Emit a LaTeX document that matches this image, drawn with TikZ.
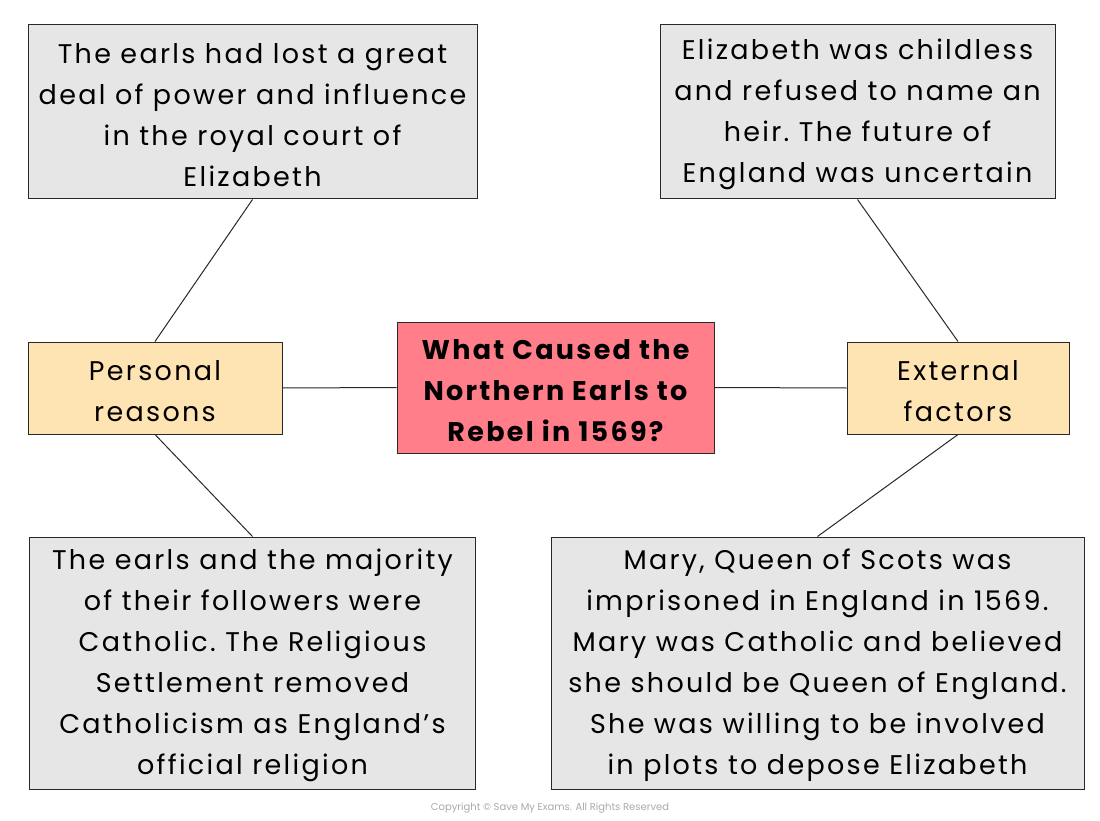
\documentclass[tikz,border=0pt]{standalone}
\usepackage{fontspec}
\setmainfont{Poppins}[LetterSpace=8.5]
\newfontfamily\copyfont{Poppins}
\newcommand\topstrut{\rule{0pt}{26pt}}
\definecolor{boxgray}{RGB}{230,230,230}
\definecolor{boxorange}{RGB}{255,228,179}
\definecolor{boxred}{RGB}{255,126,138}
\definecolor{edge}{RGB}{40,40,40}
\definecolor{copygray}{RGB}{170,170,170}
\begin{document}
\begin{tikzpicture}[x=1pt,y=-1pt,
  base/.style={draw=edge,line width=1pt,align=center,inner sep=0pt,
    font=\frenchspacing\fontsize{27}{41}\selectfont},
  infobox/.style={base,fill=boxgray},
  catbox/.style={base,fill=boxorange},
  mainbox/.style={base,fill=boxred,font=\frenchspacing\fontsize{27}{41}\bfseries\selectfont},
  link/.style={draw=edge,line width=1pt}]
\useasboundingbox (0,0) rectangle (1100,821);
\fill[white] (0,0) rectangle (1100,821);
\node[infobox,minimum width=449pt,minimum height=174pt] (tl) at (252.5,112)
  {\topstrut The earls had lost a great\\deal of power and influence\\in the royal court of\\Elizabeth};
\node[infobox,minimum width=395pt,minimum height=174pt] (tr) at (857.5,112)
  {\topstrut Elizabeth was childless\\and refused to name an\\heir. The future of\\England was uncertain};
\node[catbox,minimum width=254pt,minimum height=92pt] (pr) at (155,388)
  {\topstrut Personal\\reasons};
\node[mainbox,minimum width=317pt,minimum height=131pt] (mc) at (555.5,387.5)
  {\topstrut What Caused the\\Northern Earls to\\Rebel in 1569?};
\node[catbox,minimum width=222pt,minimum height=92pt] (ef) at (958,388)
  {\topstrut External\\factors};
\node[infobox,minimum width=446pt,minimum height=252pt] (bl) at (252.5,663)
  {\topstrut The earls and the majority\\of their followers were\\Catholic. The Religious\\Settlement removed\\Catholicism as England’s\\official religion};
\node[infobox,minimum width=533pt,minimum height=252pt] (br) at (817.5,663)
  {\topstrut Mary, Queen of Scots was\\imprisoned in England in 1569.\\Mary was Catholic and believed\\she should be Queen of England.\\She was willing to be involved\\in plots to depose Elizabeth};
\node[text=copygray,font=\copyfont\fontsize{10}{12}\selectfont] (cp) at (550,808)
  {Copyright © Save My Exams. All Rights Reserved};
\draw[link] (tl.south) -- (pr.north);
\draw[link] (pr.south) -- (bl.north);
\draw[link] (pr.east) -- (mc.west);
\draw[link] (mc.east) -- (ef.west);
\draw[link] (ef.north) -- (tr.south);
\draw[link] (ef.south) -- (br.north);
\end{tikzpicture}
\end{document}
